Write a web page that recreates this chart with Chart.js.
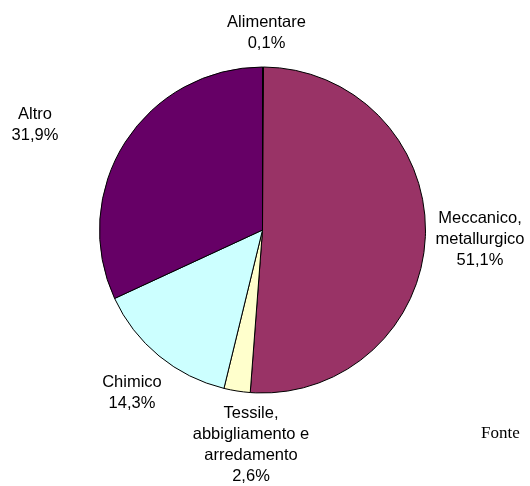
<!DOCTYPE html>
<html>
<head>
<meta charset="utf-8">
<script src="https://cdn.jsdelivr.net/npm/chart.js@4/dist/chart.umd.min.js"></script>
<style>
  html, body { margin: 0; padding: 0; background: #ffffff; }
  #wrap { position: relative; width: 530px; height: 486px; }
  canvas { display: block; }
</style>
</head>
<body>
<div id="wrap"><canvas id="c" width="530" height="486"></canvas></div>
<script>
// Data
const categories = ["Alimentare", "Meccanico, metallurgico", "Tessile, abbigliamento e arredamento", "Chimico", "Altro"];
const labelLines = [["Alimentare", "0,1%"], ["Meccanico,", "metallurgico", "51,1%"], ["Tessile,", "abbigliamento e", "arredamento", "2,6%"], ["Chimico", "14,3%"], ["Altro", "31,9%"]];
const shares = [0.1, 51.1, 2.6, 14.3, 31.9];
const colors = ["#9999FF", "#993366", "#FFFFCC", "#CCFFFF", "#660066"];
const sourceText = "Fonte";

// Label placement relative to pie centre (pixels): centre x offset, first baseline offset
const labelPlacement = [
  { dx: 4, dy: -203 },
  { dx: 217.5, dy: -7 },
  { dx: -11.5, dy: 188 },
  { dx: -130.5, dy: 157 },
  { dx: -227.5, dy: -111 }
];

const labelPlugin = {
  id: 'pieLabels',
  afterDraw(chart) {
    const ctx = chart.ctx;
    const meta = chart.getDatasetMeta(0);
    ctx.save();
    ctx.fillStyle = '#000000';
    ctx.font = '16.5px "Liberation Sans", Arial, sans-serif';
    ctx.textAlign = 'center';
    ctx.textBaseline = 'alphabetic';
    const lh = 21;
    meta.data.forEach((arc, i) => {
      const p = labelPlacement[i];
      const x = arc.x + p.dx;
      let y = arc.y + p.dy;
      labelLines[i].forEach((ln, k) => {
        ctx.fillText(ln, x, y + k * lh);
      });
    });
    ctx.font = '17px "Liberation Serif", "Times New Roman", serif';
    ctx.textAlign = 'left';
    ctx.fillText(sourceText, 481, 438);
    ctx.restore();
  }
};

new Chart(document.getElementById('c'), {
  type: 'pie',
  data: {
    labels: categories,
    datasets: [{
      data: shares,
      backgroundColor: colors,
      borderColor: '#000000',
      borderWidth: 1,
      borderAlign: 'center'
    }]
  },
  options: {
    responsive: false,
    animation: false,
    layout: { padding: { left: 99, right: 104, top: 66.5, bottom: 92.5 } },
    plugins: {
      legend: { display: false },
      tooltip: { enabled: false },
      title: { display: false }
    }
  },
  plugins: [labelPlugin]
});
</script>
</body>
</html>
